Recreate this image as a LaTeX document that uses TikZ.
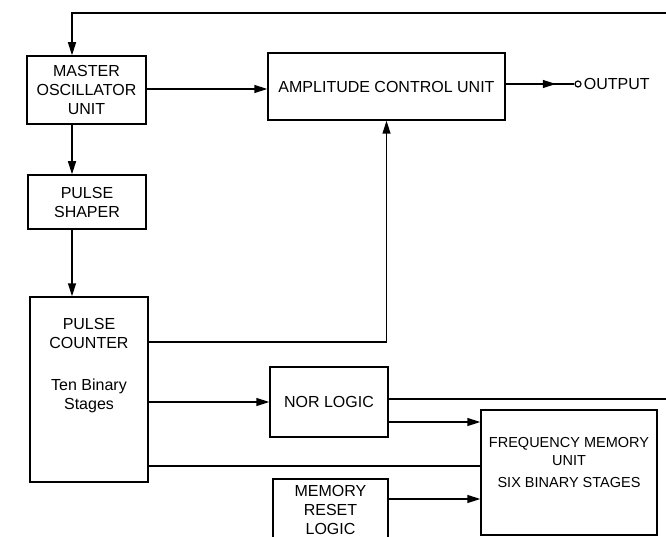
\documentclass[tikz,border=0pt]{standalone}
\usepackage{fontspec}
\setmainfont{Liberation Sans}
\usepackage{tikz}
\usetikzlibrary{arrows.meta,positioning,calc}

\begin{document}
\begin{tikzpicture}[
    x=1pt, y=-1pt,
    block/.style={rectangle, draw, line width=1.5pt, align=center,
    font=\fontsize{16}{19}\selectfont, inner sep=2pt},
    wire/.style={line width=1.5pt},
    arrow/.style={-{Triangle[length=13pt, width=8pt]}, line width=1.5pt}
]
\useasboundingbox (0,0) rectangle (666,537);
\clip (0,0) rectangle (666,537);

\node[block, minimum width=119pt, minimum height=68pt] (mosc) at (86.5,90) {MASTER\\OSCILLATOR\\UNIT};
\node[block, minimum width=118pt, minimum height=54pt] (shaper) at (87,202) {PULSE\\SHAPER};
\node[block, minimum width=118pt, minimum height=185pt,
    label={[block, draw=none, anchor=center, yshift=23.5pt]center:PULSE\\COUNTER\\[23pt]Ten Binary\\Stages}] (counter) at (89,389.5) {};
\node[block, minimum width=237pt, minimum height=67pt] (amp) at (386.5,86.5) {AMPLITUDE CONTROL UNIT};
\node[block, minimum width=118pt, minimum height=70pt] (nor) at (329,402) {NOR LOGIC};
\node[block, minimum width=176pt, minimum height=125pt,
    label={[block, draw=none, anchor=center, yshift=10pt, font=\fontsize{14.5}{18}\selectfont]center:FREQUENCY MEMORY\\UNIT\\[4pt]SIX BINARY STAGES}] (fmu) at (569,472.5) {};
\node[block, minimum width=115pt, minimum height=62pt] (reset) at (330.5,510) {MEMORY\\RESET\\LOGIC};

% output terminal
\node[circle, draw, line width=1.2pt, inner sep=0pt, minimum size=6pt,
    label={[font=\fontsize{16}{19}\selectfont, inner sep=2pt]right:OUTPUT}] (out) at (578,84) {};

% free ends leaving the picture
\coordinate (fbin) at (666,13);
\coordinate (norout) at (666,399);
\coordinate (col) at (72,0);

% feedback and main chain
\draw[arrow] (fbin) -| (mosc.north -| col);
\draw[arrow] (mosc.east |- 0,89) -- (amp.west |- 0,89);
\draw[arrow] (amp.east |- out) -- ++(50,0);
\draw[wire] (amp.east |- out) -- (out);
\draw[arrow] (mosc.south -| col) -- (shaper.north -| col);
\draw[arrow] (shaper.south -| col) -- (counter.north -| col);

% counter outputs
\draw[arrow] (counter.east |- 0,342) -| (amp.south);
\draw[arrow] (counter.east |- nor.west) -- (nor.west);
\draw[wire] (counter.east |- 0,466) -- (fmu.west |- 0,466);

% logic into memory
\draw[wire] (nor.east |- norout) -- (norout);
\draw[arrow] (nor.east |- 0,422) -- (fmu.west |- 0,422);
\draw[arrow] (reset.east |- 0,499) -- (fmu.west |- 0,499);
\end{tikzpicture}
\end{document}
